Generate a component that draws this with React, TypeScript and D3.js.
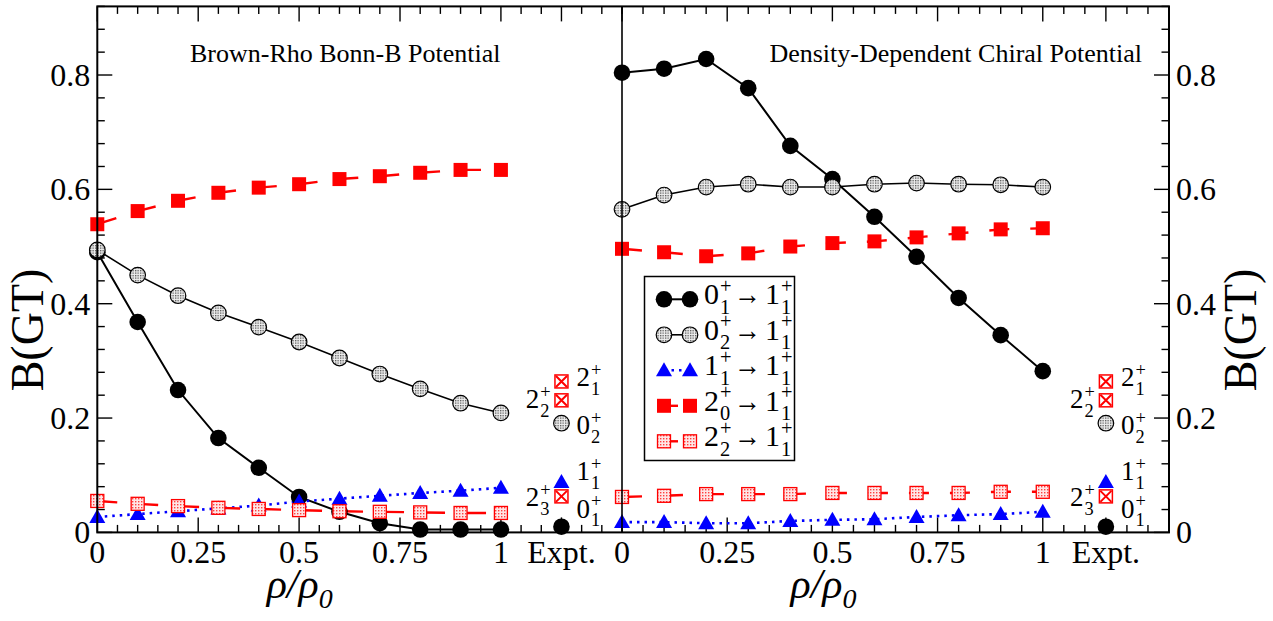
import React from 'react';
import * as d3 from 'd3';

// ---------- data ----------
const rho = [0, 0.1, 0.2, 0.3, 0.4, 0.5, 0.6, 0.7, 0.8, 0.9, 1.0];
const xTickValues = [0, 0.25, 0.5, 0.75, 1];
const xTickLabels = ['0', '0.25', '0.5', '0.75', '1'];
const exptX = 1.15;
const exptTickLabel = 'Expt.';
const yTickValues = [0, 0.2, 0.4, 0.6, 0.8];
const yTickLabels = ['0', '0.2', '0.4', '0.6', '0.8'];

// Brown-Rho Bonn-B potential
const bonn_01 = [0.490, 0.368, 0.249, 0.165, 0.113, 0.062, 0.036, 0.016, 0.005, 0.005, 0.005];
const bonn_02 = [0.494, 0.450, 0.414, 0.384, 0.359, 0.333, 0.305, 0.277, 0.251, 0.226, 0.209];
const bonn_11 = [0.027, 0.032, 0.037, 0.042, 0.047, 0.054, 0.059, 0.064, 0.069, 0.073, 0.078];
const bonn_20 = [0.539, 0.562, 0.580, 0.594, 0.603, 0.609, 0.618, 0.623, 0.629, 0.634, 0.634];
const bonn_22 = [0.055, 0.050, 0.046, 0.043, 0.041, 0.039, 0.037, 0.036, 0.035, 0.034, 0.034];

// Density-dependent chiral potential
const chiral_01 = [0.804, 0.811, 0.828, 0.777, 0.676, 0.618, 0.552, 0.482, 0.410, 0.345, 0.282];
const chiral_02 = [0.565, 0.590, 0.604, 0.609, 0.604, 0.604, 0.609, 0.611, 0.609, 0.608, 0.604];
const chiral_11 = [0.018, 0.018, 0.016, 0.016, 0.020, 0.022, 0.023, 0.027, 0.030, 0.032, 0.036];
const chiral_20 = [0.496, 0.490, 0.483, 0.488, 0.500, 0.506, 0.509, 0.516, 0.523, 0.530, 0.532];
const chiral_22 = [0.062, 0.064, 0.067, 0.067, 0.067, 0.069, 0.069, 0.069, 0.069, 0.071, 0.071];

// Experimental values
const exptValues = [0.264, 0.231, 0.191, 0.088, 0.063, 0.010];
const exptStateMain = ['2', '2', '0', '1', '2', '0'];
const exptStateSub = ['1', '2', '2', '1', '3', '1'];
const exptKinds = ['xsq', 'xsq', 'gray', 'tri', 'xsq', 'black'];

// Legend
const legendInitial = [['0', '1'], ['0', '2'], ['1', '1'], ['2', '0'], ['2', '2']];
const legendFinal = ['1', '1'];

const panelTitles = ['Brown-Rho Bonn-B Potential', 'Density-Dependent Chiral Potential'];

// ---------- layout ----------
const W = 1273;
const H = 621;
const FONT = '"Liberation Serif", "Times New Roman", Times, serif';
const y = d3.scaleLinear().domain([0, 0.92]).range([532.4, 6.4]);
const xL = d3.scaleLinear().domain([0, 1.3]).range([97.3, 622]);
const xR = d3.scaleLinear().domain([0, 1.3]).range([622, 1169]);

type Style = { kind: string; stroke: string; width: number; dash?: string };
const styles: Style[] = [
  { kind: 'black', stroke: '#000', width: 2 },
  { kind: 'gray', stroke: '#000', width: 1.6 },
  { kind: 'tri', stroke: '#0000ff', width: 2.6, dash: '2.5,5' },
  { kind: 'redsq', stroke: '#ff0000', width: 2.4, dash: '20,21' },
  { kind: 'hatch', stroke: '#ff0000', width: 2.4, dash: '20,21' },
];

function Marker({ kind, cx, cy }: { kind: string; cx: number; cy: number }) {
  switch (kind) {
    case 'black':
      return <circle cx={cx} cy={cy} r={8.3} fill="#000" />;
    case 'gray':
      return <circle cx={cx} cy={cy} r={7.8} fill="url(#dotGray)" stroke="#000" strokeWidth={1.2} />;
    case 'tri':
      return <path d={`M${cx},${cy - 8}L${cx + 8},${cy + 6}L${cx - 8},${cy + 6}Z`} fill="#0000ff" />;
    case 'redsq':
      return <rect x={cx - 7} y={cy - 7} width={14} height={14} fill="#ff0000" />;
    case 'hatch':
      return (
        <rect x={cx - 6.5} y={cy - 6.5} width={13} height={13} fill="url(#dotRed)" stroke="#ff0000" strokeWidth={1.3} />
      );
    case 'xsq':
      return (
        <g>
          <rect x={cx - 6.5} y={cy - 6.5} width={13} height={13} fill="#fff" stroke="#ff0000" strokeWidth={1.5} />
          <path
            d={`M${cx - 5.5},${cy - 5.5}L${cx + 5.5},${cy + 5.5}M${cx + 5.5},${cy - 5.5}L${cx - 5.5},${cy + 5.5}`}
            stroke="#ff0000"
            strokeWidth={2}
          />
        </g>
      );
    default:
      return null;
  }
}

function State({ x, yb, main, sub, fs, anchorEnd }: { x: number; yb: number; main: string; sub: string; fs: number; anchorEnd?: boolean }) {
  const small = fs * 0.68;
  const w = fs * 0.5 + 1 + small * 0.56;
  const x0 = anchorEnd ? x - w : x;
  return (
    <g fontFamily={FONT} fill="#000">
      <text x={x0} y={yb} fontSize={fs}>{main}</text>
      <text x={x0 + fs * 0.5 + 1} y={yb - fs * 0.38} fontSize={small}>+</text>
      <text x={x0 + fs * 0.5 + 1} y={yb + fs * 0.32} fontSize={small}>{sub}</text>
    </g>
  );
}

function Panel({ xs, series, title, side }: { xs: d3.ScaleLinear<number, number>; series: number[][]; title: string; side: 'left' | 'right' }) {
  const minor = d3.range(0, 1.3001, 0.05).map((v) => +v.toFixed(2));
  const majors = [...xTickValues, exptX];
  const yMinor = d3.range(0, 0.9201, 0.04).map((v) => +v.toFixed(2));
  const yb = y(0);
  const yt = y(0.92);
  const yAxisX = side === 'left' ? xs(0) : xs(1.3);
  const dir = side === 'left' ? 1 : -1;
  const ex = xs(exptX);
  const labelDy = [5, 8, 11, -2, 10, -9];
  const labelLeft = [false, true, false, false, true, false];
  return (
    <g>
      {minor.map((v, i) => {
        const isMajor = majors.some((m) => Math.abs(m - v) < 1e-6);
        const len = isMajor ? 15 : 7.5;
        const px = xs(v);
        return (
          <g key={'xt' + i} stroke="#000" strokeWidth={1.4}>
            <line x1={px} x2={px} y1={yb} y2={yb - len} />
            <line x1={px} x2={px} y1={yt} y2={yt + len} />
          </g>
        );
      })}
      {yMinor.map((v, i) => {
        const isMajor = Math.abs((v / 0.2) - Math.round(v / 0.2)) < 1e-6;
        const len = isMajor ? 15 : 7.5;
        return (
          <line key={'yt' + i} x1={yAxisX} x2={yAxisX + dir * len} y1={y(v)} y2={y(v)} stroke="#000" strokeWidth={1.4} />
        );
      })}
      <g fontFamily={FONT} fontSize={32} fill="#000">
        {xTickValues.map((v, i) => (
          <text key={'xl' + i} x={xs(v)} y={yb + 31} textAnchor="middle">{xTickLabels[i]}</text>
        ))}
        <text x={ex} y={yb + 31} textAnchor="middle">{exptTickLabel}</text>
        {yTickValues.map((v, i) => (
          <text
            key={'yl' + i}
            x={side === 'left' ? yAxisX - 7 : yAxisX + 7}
            y={y(v) + 11}
            textAnchor={side === 'left' ? 'end' : 'start'}
          >
            {yTickLabels[i]}
          </text>
        ))}
      </g>
      <text
        x={side === 'left' ? 190 : 1142}
        y={62}
        fontFamily={FONT}
        fontSize={26}
        textAnchor={side === 'left' ? 'start' : 'end'}
      >
        {title}
      </text>
      {series.map((vals, si) => {
        const st = styles[si];
        const line = d3.line<number>().x((_, i) => xs(rho[i])).y((d) => y(d));
        return (
          <path
            key={'l' + si}
            d={line(vals) || ''}
            fill="none"
            stroke={st.stroke}
            strokeWidth={st.width}
            strokeDasharray={st.dash}
          />
        );
      })}
      {series.map((vals, si) => (
        <g key={'m' + si}>
          {vals.map((v, i) => (
            <Marker key={i} kind={styles[si].kind} cx={xs(rho[i])} cy={y(v)} />
          ))}
        </g>
      ))}
      {exptValues.map((v, i) => (
        <g key={'e' + i}>
          <Marker kind={exptKinds[i]} cx={ex} cy={y(v)} />
          <State
            x={labelLeft[i] ? ex - 11 : ex + 15}
            yb={y(v) + labelDy[i]}
            main={exptStateMain[i]}
            sub={exptStateSub[i]}
            fs={27}
            anchorEnd={labelLeft[i]}
          />
        </g>
      ))}
      <text
        x={(xs(0) + xs(1.3)) / 2 - (side === 'left' ? 60 : 72)}
        y={598}
        fontFamily={FONT}
        fontSize={42}
        fontStyle="italic"
        textAnchor="middle"
      >
        ρ/ρ<tspan dy={10} fontSize={28}>0</tspan>
      </text>
    </g>
  );
}

function Legend() {
  const x0 = 644.5;
  const y0 = 276.5;
  const rowY = (i: number) => 299.3 + i * 35.5;
  return (
    <g>
      <rect x={x0} y={y0} width={150} height={184} fill="#fff" stroke="#000" strokeWidth={1.5} />
      {styles.map((st, i) => {
        const ry = rowY(i);
        return (
          <g key={i}>
            <line
              x1={664}
              x2={690}
              y1={ry}
              y2={ry}
              stroke={st.stroke}
              strokeWidth={st.width}
              strokeDasharray={st.dash ? (st.kind === 'tri' ? '2.5,5' : '14,20') : undefined}
            />
            <Marker kind={st.kind} cx={664} cy={ry} />
            <Marker kind={st.kind} cx={690} cy={ry} />
            <State x={704} yb={ry + 5} main={legendInitial[i][0]} sub={legendInitial[i][1]} fs={30} />
            <text x={734} y={ry + 5} fontFamily={FONT} fontSize={30} textLength={27} lengthAdjust="spacingAndGlyphs">→</text>
            <State x={765} yb={ry + 5} main={legendFinal[0]} sub={legendFinal[1]} fs={30} />
          </g>
        );
      })}
    </g>
  );
}

export default function App() {
  const left = [bonn_01, bonn_02, bonn_11, bonn_20, bonn_22];
  const right = [chiral_01, chiral_02, chiral_11, chiral_20, chiral_22];
  return (
    <svg width={W} height={H} style={{ position: 'absolute', left: 0, top: 0, background: '#fff' }}>
      <defs>
        <pattern id="dotGray" width={2.5} height={2.5} patternUnits="userSpaceOnUse">
          <rect width={2.5} height={2.5} fill="#eeeeee" />
          <rect width={1.3} height={1.3} fill="#555" />
        </pattern>
        <pattern id="dotRed" width={3} height={3} patternUnits="userSpaceOnUse">
          <rect width={3} height={3} fill="#ffe6e6" />
          <rect width={1.4} height={1.4} fill="#ff4040" />
        </pattern>
      </defs>
      <rect x={0} y={0} width={W} height={H} fill="#fff" />
      <Panel xs={xL} series={left} title={panelTitles[0]} side="left" />
      <Panel xs={xR} series={right} title={panelTitles[1]} side="right" />
      <rect x={97.3} y={6.4} width={1169 - 97.3} height={532.4 - 6.4} fill="none" stroke="#000" strokeWidth={2} />
      <line x1={622} x2={622} y1={6.4} y2={532.4} stroke="#000" strokeWidth={1.6} />
      <Legend />
      <text transform="translate(43,330) rotate(-90)" fontFamily={FONT} fontSize={46} textAnchor="middle">B(GT)</text>
      <text transform="translate(1256,330) rotate(-90)" fontFamily={FONT} fontSize={46} textAnchor="middle">B(GT)</text>
    </svg>
  );
}
